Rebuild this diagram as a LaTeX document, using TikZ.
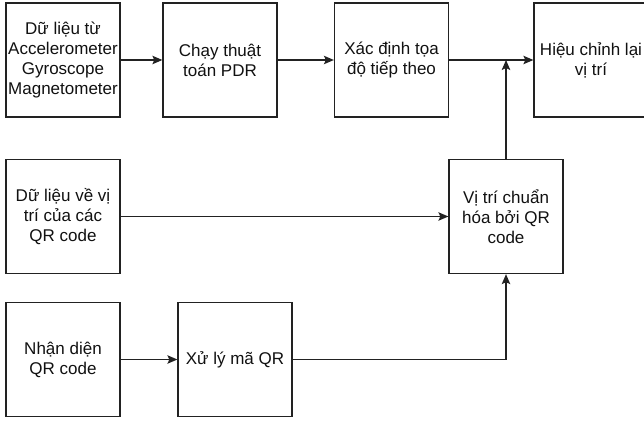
\documentclass[tikz,border=0pt]{standalone}
\usepackage{fontspec}
\setmainfont{Liberation Sans}
\usetikzlibrary{arrows.meta}
\definecolor{ln}{HTML}{222222}
\definecolor{tx}{HTML}{111111}
\tikzset{
  box/.style={draw=ln, line width=1.3pt, fill=white, minimum width=114pt, minimum height=114pt,
    inner sep=0pt, align=center, text=tx, font=\fontsize{17}{20}\selectfont},
  conn/.style={draw=ln, line width=1.3pt, -{Stealth[length=10pt,width=8.5pt,inset=2pt]}},
  plain/.style={draw=ln, line width=1.3pt}
}
\begin{document}
\begin{tikzpicture}[x=1pt,y=-1pt]
\useasboundingbox (0,0) rectangle (644,422);
\node[box] (b1) at (63,60) {Dữ liệu từ\\Accelerometer\\Gyroscope\\Magnetometer};
\node[box] (b2) at (220,60) {Chạy thuật\\toán PDR};
\node[box] (b3) at (391.5,60) {Xác định tọa\\độ tiếp theo};
\node[box] (b4) at (591,60) {Hiệu chỉnh lại\\vị trí};
\node[box] (b5) at (63,216.5) {Dữ liệu về vị\\trí của các\\QR code};
\node[box] (b6) at (506,216.5) {Vị trí chuẩn\\hóa bởi QR\\code};
\node[box] (b7) at (63,359.5) {Nhận diện\\QR code};
\node[box] (b8) at (235,359.5) {Xử lý mã QR};
\coordinate (j) at (b6.north |- b3.east);
\draw[conn] (b1) -- (b2);
\draw[conn] (b2) -- (b3);
\draw[conn] (b3) -- (b4);
\draw[conn] (b6) -- (j);
\draw[conn] (b5) -- (b6);
\draw[conn] (b7) -- (b8);
\draw[conn] (b8.east) -| (b6.south);
\end{tikzpicture}
\end{document}
